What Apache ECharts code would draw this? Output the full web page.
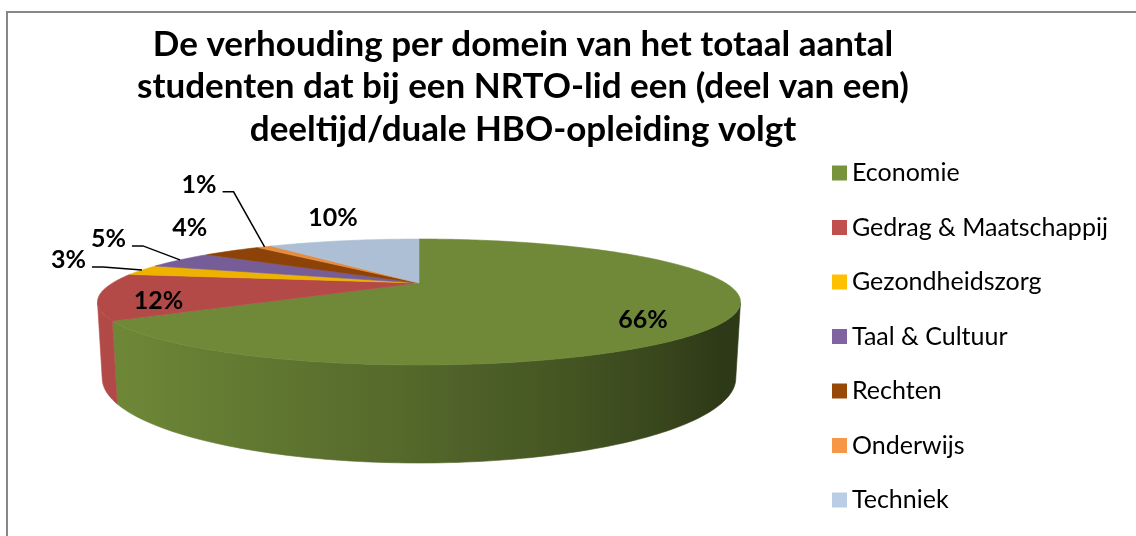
<!DOCTYPE html>
<html>
<head>
<meta charset="utf-8">
<script src="https://cdn.jsdelivr.net/npm/echarts@6/dist/echarts.min.js"></script>
<style>
html, body { margin: 0; padding: 0; background: #fff; }
#chart { width: 1136px; height: 536px; }
</style>
</head>
<body>
<div id="chart"></div>
<script>
// data
var categories = ['Economie', 'Gedrag & Maatschappij', 'Gezondheidszorg', 'Taal & Cultuur', 'Rechten', 'Onderwijs', 'Techniek'];
var values = [65.7, 11.8, 2.8, 4.6, 3.9, 1.0, 10.2];
var colors = ['#77933C', '#C0504D', '#FFC000', '#8064A2', '#984807', '#F79646', '#B9CDE5'];

var titleText = 'De verhouding per domein van het totaal aantal\nstudenten dat bij een NRTO-lid een (deel van een)\ndeeltijd/duale HBO-opleiding volgt';

// 3d pie: apex on screen, half width factor, tilt (sin), perspective (k), thickness
var pie = { cx: 419, cy: 283, a: 306.5, s: 0.1868, k: 0.3017, h: 0.2354 };
pie.c = Math.sqrt(1 - pie.s * pie.s);
pie.d = pie.c / pie.k;

// label placement: radius on top face + screen nudge, leader line or not
var labelLayout = [
    { r: 0.7, dx: 14, dy: 16 },
    { r: 0.8, dx: -8, dy: 8 },
    { r: 1, dx: -39, dy: -3, line: true },
    { r: 1, dx: -37, dy: -14, line: true },
    { r: 1, dx: -42, dy: -23 },
    { r: 1, dx: -31, dy: -55, line: true },
    { r: 1, dx: -11, dy: -23 }
];

// angle t clockwise from the back (12 o'clock), r = radius fraction, y = 0 top / -h bottom
function project(t, r, y) {
    var X = r * Math.sin(t), Z = -r * Math.cos(t);
    var zc = 1 - (y * pie.s + Z * pie.c) / pie.d;
    var yc = y * pie.c - Z * pie.s;
    return [pie.cx + pie.a * X / zc, pie.cy - pie.a * yc / zc];
}

function shade(hex, f) {
    var n = parseInt(hex.slice(1), 16);
    var r = Math.round(((n >> 16) & 255) * f);
    var g = Math.round(((n >> 8) & 255) * f);
    var b = Math.round((n & 255) * f);
    return 'rgb(' + r + ',' + g + ',' + b + ')';
}

var total = values.reduce(function (a, b) { return a + b; }, 0);
var slices = [];
var acc = 0;
values.forEach(function (v, i) {
    var start = acc / total * Math.PI * 2;
    acc += v;
    slices.push({ start: start, end: acc / total * Math.PI * 2, pct: Math.round(v / total * 100) });
});

// visible part of the outer wall
var visMin = Math.acos(-1 / (pie.d * pie.c));
var visMax = Math.PI * 2 - visMin;
var xLeft = project(visMax, 1, 0)[0];
var xRight = project(visMin, 1, 0)[0];
var lightAt = 250 / 180 * Math.PI;

function sideFill(base) {
    var stops = [];
    for (var j = 0; j <= 24; j++) {
        var t = visMax - (visMax - visMin) * j / 24;
        var x = project(t, 1, 0)[0];
        var f = Math.max(0.42, 0.62 + 0.38 * Math.cos(t - lightAt));
        stops.push({ offset: (x - xLeft) / (xRight - xLeft), color: shade(base, f * 0.93) });
    }
    return { type: 'linear', x: xLeft, y: 0, x2: xRight, y2: 0, global: true, colorStops: stops };
}

function renderSlice(i) {
    return function (params, api) {
        var sl = slices[i];
        var step = Math.PI / 180;
        var children = [];
        var topColor = shade(colors[i], 0.93);

        var t0 = Math.max(sl.start, visMin), t1 = Math.min(sl.end, visMax);
        if (t1 > t0) {
            var n = Math.max(2, Math.ceil((t1 - t0) / step));
            var side = [];
            for (var j = 0; j <= n; j++) side.push(project(t0 + (t1 - t0) * j / n, 1, 0));
            for (j = n; j >= 0; j--) side.push(project(t0 + (t1 - t0) * j / n, 1, -pie.h));
            var fill = sideFill(colors[i]);
            children.push({ type: 'polygon', z2: 1, shape: { points: side }, style: { fill: fill, stroke: fill, lineWidth: 0.6 } });
        }

        var m = Math.max(2, Math.ceil((sl.end - sl.start) / step));
        var top = [project(0, 0, 0)];
        for (var q = 0; q <= m; q++) top.push(project(sl.start + (sl.end - sl.start) * q / m, 1, 0));
        children.push({ type: 'polygon', z2: 10, shape: { points: top }, style: { fill: topColor, stroke: topColor, lineWidth: 0.6 } });

        var L = labelLayout[i];
        var mid = (sl.start + sl.end) / 2;
        var p = project(mid, L.r, 0);
        var pos = [p[0] + L.dx, p[1] + L.dy];
        var font = 'bold 25px Lato';
        if (L.line) {
            children.push({
                type: 'polyline', z2: 20,
                shape: { points: [project(mid, 1, 0), pos, [pos[0] - 11, pos[1]]] },
                style: { stroke: '#000', lineWidth: 1.5, fill: null }
            });
            children.push({
                type: 'text', z2: 30,
                style: { text: sl.pct + '%', x: pos[0] - 17, y: pos[1] - 7, font: font, fill: '#000', textAlign: 'right', textVerticalAlign: 'middle' }
            });
        } else {
            children.push({
                type: 'text', z2: 30,
                style: { text: sl.pct + '%', x: pos[0], y: pos[1], font: font, fill: '#000', textAlign: 'center', textVerticalAlign: 'middle' }
            });
        }
        return { type: 'group', children: children };
    };
}

var chart = echarts.init(document.getElementById('chart'));
var option = {
    animation: false,
    title: {
        text: titleText,
        left: 523,
        top: 23,
        textAlign: 'center',
        padding: 0,
        textStyle: { fontFamily: 'Lato', fontWeight: 'bold', fontSize: 35, lineHeight: 42.5, color: '#000' }
    },
    legend: {
        orient: 'vertical',
        left: 832,
        top: 160,
        icon: 'rect',
        itemWidth: 15,
        itemHeight: 15,
        itemGap: 28.5,
        padding: 0,
        data: categories.map(function (name, i) {
            return { name: name, itemStyle: { color: colors[i] } };
        }),
        textStyle: { fontFamily: 'Lato', fontSize: 25, lineHeight: 26, color: '#000' }
    },
    graphic: [{
        type: 'rect',
        shape: { x: 7, y: 12, width: 1300, height: 700 },
        style: { fill: null, stroke: '#878787', lineWidth: 2 },
        silent: true
    }],
    series: categories.map(function (name, i) {
        return {
            type: 'custom',
            name: name,
            coordinateSystem: 'none',
            itemStyle: { color: colors[i] },
            data: [values[i]],
            renderItem: renderSlice(i)
        };
    })
};
chart.setOption(option);
</script>
</body>
</html>
